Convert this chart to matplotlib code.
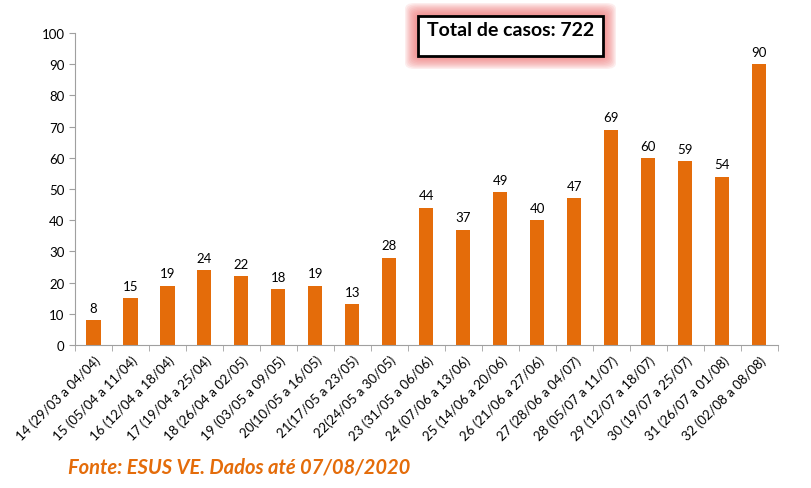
import numpy as np
import matplotlib.pyplot as plt
from matplotlib.patches import FancyBboxPatch, Rectangle

# Dados
semanas = ['14 (29/03 a 04/04)', '15 (05/04 a 11/04)', '16 (12/04 a 18/04)',
           '17 (19/04 a 25/04)', '18 (26/04 a 02/05)', '19 (03/05 a 09/05)',
           '20(10/05 a 16/05)', '21(17/05 a 23/05)', '22(24/05 a 30/05)',
           '23 (31/05 a 06/06)', '24 (07/06 a 13/06)', '25 (14/06 a 20/06)',
           '26 (21/06 a 27/06)', '27 (28/06 a 04/07)', '28 (05/07 a 11/07)',
           '29 (12/07 a 18/07)', '30 (19/07 a 25/07)', '31 (26/07 a 01/08)',
           '32 (02/08 a 08/08)']
casos = [8, 15, 19, 24, 22, 18, 19, 13, 28, 44, 37, 49, 40, 47, 69, 60, 59, 54, 90]
total = 722

plt.rcParams['font.family'] = ['Lato', 'DejaVu Sans']
cor = '#E46C0A'

fig = plt.figure(figsize=(8.11, 4.89), dpi=100)
ax = fig.add_axes([0.0925, 0.2924, 0.8665, 0.6381])

x = np.arange(len(casos))
barras = ax.bar(x, casos, width=0.38, color=cor)
for xi, v in zip(x, casos):
    ax.text(xi, v + 2, str(v), ha='center', va='bottom', fontsize=9.5)

ax.set_xlim(-0.5, len(casos) - 0.5)
ax.set_ylim(0, 100)
ax.set_yticks(range(0, 101, 10))
ax.set_xticks(x)
ax.set_xticklabels(semanas, rotation=45, ha='right', rotation_mode='anchor', fontsize=9.5)
ax.set_xticks(np.arange(-0.5, len(casos)), minor=True)
ax.tick_params(axis='x', which='major', length=0, pad=6)
ax.tick_params(axis='x', which='minor', length=4, color='#A0A0A0')
ax.tick_params(axis='y', length=4, color='#A0A0A0', labelsize=9.5)

for s in ['top', 'right']:
    ax.spines[s].set_visible(False)
for s in ['left', 'bottom']:
    ax.spines[s].set_color('#A0A0A0')

# Caixa com total (com brilho vermelho)
bx, by, bw, bh = 418 / 811, 1 - 57 / 489, 185 / 811, 40 / 489
for i in range(10, 0, -1):
    pad = i * 1.3
    glow = FancyBboxPatch((bx - pad / 811, by - pad / 489), bw + 2 * pad / 811, bh + 2 * pad / 489,
                          boxstyle='round,pad=0,rounding_size=0.012', transform=fig.transFigure,
                          facecolor='#F07878', edgecolor='none', alpha=0.13)
    fig.patches.append(glow)
fig.patches.append(Rectangle((bx, by), bw, bh, transform=fig.transFigure,
                             facecolor='white', edgecolor='black', linewidth=2))
fig.text(bx + bw / 2, 1 - 31 / 489, 'Total de casos: %d' % total, ha='center', va='center',
         fontsize=14, fontweight='bold')

fig.text(68 / 811, 1 - 468 / 489, 'Fonte: ESUS VE. Dados até 07/08/2020', color=cor,
         fontsize=14.5, fontweight='bold', fontstyle='italic', va='center')

fig.savefig('out.png', dpi=100)
